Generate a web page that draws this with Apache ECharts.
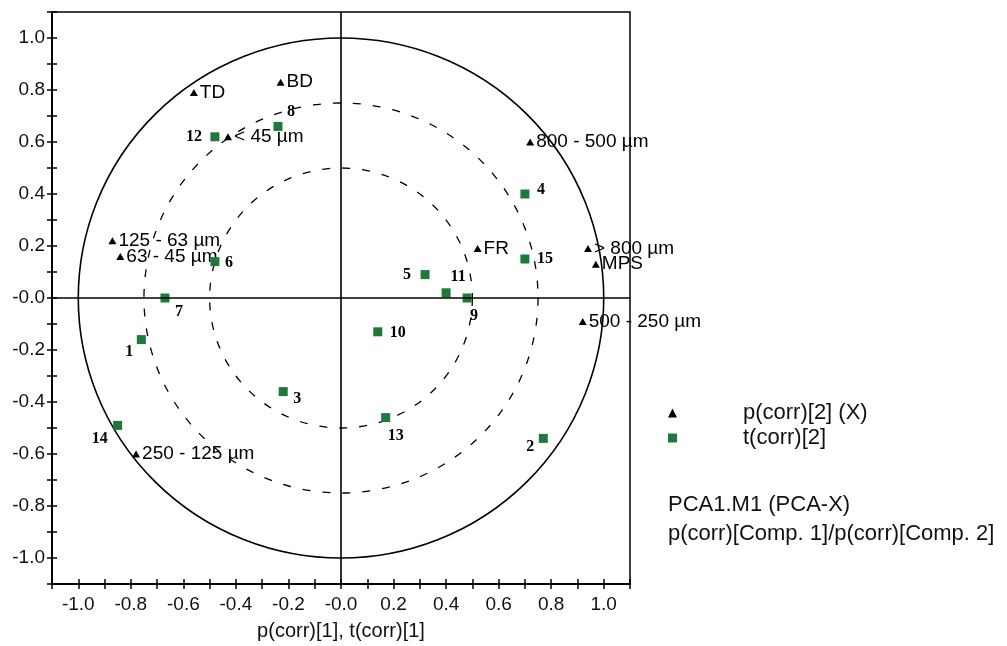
<!DOCTYPE html>
<html>
<head>
<meta charset="utf-8">
<script src="https://cdn.jsdelivr.net/npm/echarts@6/dist/echarts.min.js"></script>
<style>
  html, body { margin: 0; padding: 0; background: #fff; }
  #main { width: 1007px; height: 646px; }
</style>
</head>
<body>
<div id="main"></div>
<script>
// p(corr)[2] (X) - loadings (triangles)
var varNames = ['TD', 'BD', '< 45 µm', '125 - 63 µm', '63 - 45 µm', '800 - 500 µm', 'FR', '> 800 µm', 'MPS', '500 - 250 µm', '250 - 125 µm']
var varX = [-0.56, -0.23, -0.43, -0.87, -0.84, 0.72, 0.52, 0.94, 0.97, 0.92, -0.78]
var varY = [0.79, 0.83, 0.62, 0.22, 0.16, 0.60, 0.19, 0.19, 0.13, -0.09, -0.60]

// t(corr)[2] - scores (squares)
var obsIds = ['1', '2', '3', '4', '5', '6', '7', '8', '9', '10', '11', '12', '13', '14', '15']
var obsX = [-0.76, 0.77, -0.22, 0.70, 0.32, -0.48, -0.67, -0.24, 0.48, 0.14, 0.40, -0.48, 0.17, -0.85, 0.70]
var obsY = [-0.16, -0.54, -0.36, 0.40, 0.09, 0.14, 0.00, 0.66, 0.00, -0.13, 0.02, 0.62, -0.46, -0.49, 0.15]

// reference circles (radius)
var circleRadii = [1, 0.75, 0.5]

var axisMin = -1.1
var axisMax = 1.1
var tickStep = 0.1

// label offsets for score numbers (px from point centre)
var obsLabelOffset = {
  '1': [-12, 12], '2': [-13, 8], '3': [14, 7], '4': [16, -4], '5': [-18, 0],
  '6': [14, 1], '7': [14, 14], '8': [13, -15], '9': [7, 18], '10': [20, 1],
  '11': [12, -16], '12': [-21, 0], '13': [10, 18], '14': [-18, 13], '15': [20, 0]
}

var SANS = 'Liberation Sans, Arial, sans-serif'
var SERIF = 'Liberation Serif, Times New Roman, serif'

function tickLabel (v) {
  var k = Math.round(v * 10)
  if (k % 2 !== 0) return ''
  if (k === 0) return '-0.0'
  return (k / 10).toFixed(1)
}

var varData = varNames.map(function (n, i) {
  return { name: n, value: [varX[i], varY[i]] }
})
var obsData = obsIds.map(function (n, i) {
  return {
    name: n,
    value: [obsX[i], obsY[i]],
    label: { offset: obsLabelOffset[n] }
  }
})

function axisCfg (isX, inner) {
  var a = {
    type: 'value',
    min: axisMin,
    max: axisMax,
    interval: tickStep,
    position: isX ? 'bottom' : 'left',
    offset: 0,
    splitLine: { show: false },
    axisLine: { show: true, onZero: false, lineStyle: { color: '#000', width: 1.5 } },
    axisTick: { show: true, inside: !!inner, length: 5, lineStyle: { color: '#000', width: 1.5 } },
    axisLabel: {
      show: !inner,
      formatter: tickLabel,
      color: '#111',
      fontSize: 19,
      fontFamily: SANS,
      margin: isX ? 11 : 7,
      showMinLabel: true,
      showMaxLabel: true
    }
  }
  return a
}

var xMain = axisCfg(true, false)
xMain.name = 'p(corr)[1], t(corr)[1]'
xMain.nameLocation = 'middle'
xMain.nameGap = 37
xMain.nameTextStyle = { color: '#111', fontSize: 20, fontFamily: SANS }

var myChart = echarts.init(document.getElementById('main'))
var option = {
  animation: false,
  backgroundColor: '#fff',
  grid: {
    left: 52, right: 377, top: 12, bottom: 61,
    show: true, borderColor: '#000', borderWidth: 1.5, backgroundColor: 'transparent'
  },
  title: {
    text: 'PCA1.M1 (PCA-X)\np(corr)[Comp. 1]/p(corr)[Comp. 2]',
    left: 668,
    top: 490,
    padding: 0,
    textStyle: { fontSize: 22, fontWeight: 'normal', color: '#111', fontFamily: SANS, lineHeight: 29 }
  },
  legend: {
    orient: 'vertical',
    left: 668,
    top: 402,
    itemWidth: 9,
    itemHeight: 9,
    itemGap: 3,
    padding: 0,
    data: [
      { name: 'p(corr)[2] (X)', icon: 'triangle', itemStyle: { color: '#000' } },
      { name: 't(corr)[2]', icon: 'rect', itemStyle: { color: '#1e7a3a' } }
    ],
    textStyle: { fontSize: 22, color: '#111', fontFamily: SANS, padding: [0, 0, 0, 61] }
  },
  xAxis: [xMain, axisCfg(true, true)],
  yAxis: [axisCfg(false, false), axisCfg(false, true)],
  series: [
    {
      name: 'circles',
      type: 'custom',
      silent: true,
      z: 1,
      data: circleRadii.map(function (r) { return [r, 0] }),
      renderItem: function (params, api) {
        var r = api.value(0)
        var c = api.coord([0, 0])
        var s = api.size([r, r])
        var rx = s[0]
        var ry = s[1]
        var solid = r === 1
        return {
          type: 'circle',
          shape: { cx: c[0], cy: c[1], r: rx },
          scaleY: ry / rx,
          originX: c[0],
          originY: c[1],
          style: {
            fill: 'none',
            stroke: '#000',
            lineWidth: solid ? 1.6 : 1.3,
            lineDash: solid ? null : [8, 12]
          }
        }
      }
    },
    {
      name: 'p(corr)[2] (X)',
      type: 'scatter',
      symbol: 'triangle',
      symbolSize: [8, 7],
      z: 3,
      itemStyle: { color: '#000', opacity: 1 },
      label: {
        show: true,
        position: 'right',
        distance: 2,
        formatter: '{b}',
        color: '#000',
        fontSize: 19,
        fontFamily: SANS
      },
      data: varData,
      markLine: {
        silent: true,
        symbol: 'none',
        label: { show: false },
        lineStyle: { color: '#000', width: 1.6, type: 'solid' },
        data: [{ xAxis: 0 }, { yAxis: 0 }]
      }
    },
    {
      name: 't(corr)[2]',
      type: 'scatter',
      symbol: 'rect',
      symbolSize: 9,
      z: 4,
      itemStyle: { color: '#1e7a3a', opacity: 1 },
      label: {
        show: true,
        position: 'inside',
        align: 'center',
        verticalAlign: 'middle',
        formatter: '{b}',
        color: '#000',
        fontSize: 16,
        fontWeight: 'bold',
        fontFamily: SERIF
      },
      data: obsData
    }
  ]
}
myChart.setOption(option)
</script>
</body>
</html>
